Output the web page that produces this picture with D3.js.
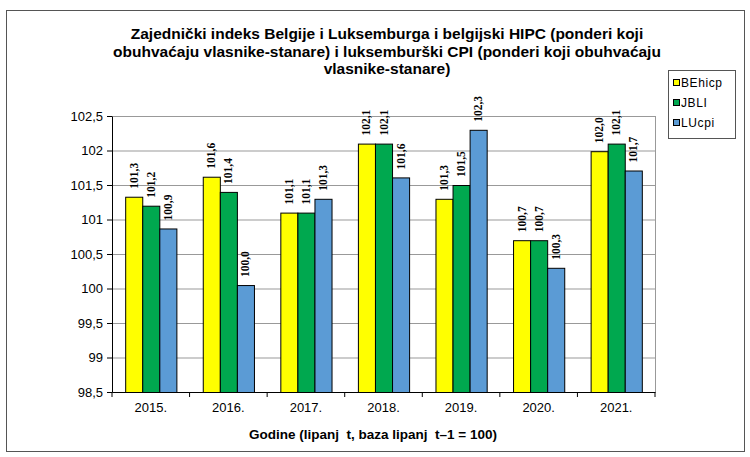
<!DOCTYPE html>
<html>
<head>
<meta charset="utf-8">
<script src="https://cdn.jsdelivr.net/npm/d3@7"></script>
<style>
  body { margin: 0; background: #fff; }
  svg { display: block; }
  .axis text { font-family: "Liberation Sans", Arial, sans-serif; font-size: 13px; fill: #000; }
  .axis path, .axis line { stroke: #000; }
  .title { font-family: "Liberation Sans", Arial, sans-serif; font-size: 15.5px; font-weight: bold; }
  .val { font-family: "Liberation Serif", "Times New Roman", serif; font-size: 11.5px; font-weight: bold; }
</style>
</head>
<body>
<svg id="chart" width="750" height="457"></svg>
<script>
// data
const years = ["2015.", "2016.", "2017.", "2018.", "2019.", "2020.", "2021."];
const seriesNames = ["BEhicp", "JBLI", "LUcpi"];
const beValues = [101.33, 101.62, 101.1, 102.1, 101.3, 100.7, 101.99];
const jbValues = [101.2, 101.4, 101.1, 102.1, 101.5, 100.7, 102.1];
const luValues = [100.87, 100.05, 101.3, 101.61, 102.3, 100.3, 101.71];
const beLabels = ["101,3", "101,6", "101,1", "102,1", "101,3", "100,7", "102,0"];
const jbLabels = ["101,2", "101,4", "101,1", "102,1", "101,5", "100,7", "102,1"];
const luLabels = ["100,9", "100,0", "101,3", "101,6", "102,3", "100,3", "101,7"];
const yTicks = [98.5, 99, 99.5, 100, 100.5, 101, 101.5, 102, 102.5];
const colors = ["#ffff00", "#00a84f", "#5b9bd5"];

const svg = d3.select("#chart");
const margin = { top: 116, right: 95, bottom: 65, left: 112 };
const innerW = 750 - margin.left - margin.right;
const innerH = 457 - margin.top - margin.bottom;

// outer frame
svg.append("rect").attr("x", 6.5).attr("y", 10.5).attr("width", 738).attr("height", 441)
  .attr("fill", "none").attr("stroke", "#555").attr("stroke-width", 1);

// title
const titleLines = [
  "Zajednički indeks Belgije i Luksemburga i belgijski HIPC (ponderi koji",
  "obuhvaćaju vlasnike-stanare) i luksemburški CPI (ponderi koji obuhvaćaju",
  "vlasnike-stanare)"
];
svg.append("text").attr("class", "title").attr("text-anchor", "middle")
  .selectAll("tspan").data(titleLines).join("tspan")
  .attr("x", 387).attr("y", (d, i) => 39 + i * 17.5).text(d => d);

const g = svg.append("g").attr("transform", `translate(${margin.left},${margin.top})`);

const x = d3.scaleBand().domain(years).range([0, innerW]).paddingInner(0.34).paddingOuter(0.17);
const xs = d3.scaleBand().domain(seriesNames).range([0, x.bandwidth()]);
const y = d3.scaleLinear().domain([98.5, 102.5]).range([innerH, 0]);

// gridlines
g.append("g").selectAll("line").data(yTicks).join("line")
  .attr("x1", 0).attr("x2", innerW)
  .attr("y1", d => y(d) + 0.5).attr("y2", d => y(d) + 0.5)
  .attr("stroke", "#999").attr("stroke-width", 1);
g.append("line").attr("x1", innerW + 0.5).attr("x2", innerW + 0.5).attr("y1", 0).attr("y2", innerH)
  .attr("stroke", "#999");

// bars
const series = [
  { name: "BEhicp", values: beValues, labels: beLabels },
  { name: "JBLI", values: jbValues, labels: jbLabels },
  { name: "LUcpi", values: luValues, labels: luLabels }
];

series.forEach((s, si) => {
  const sg = g.append("g");
  sg.selectAll("rect").data(s.values).join("rect")
    .attr("x", (d, i) => x(years[i]) + xs(s.name) + 0.5)
    .attr("y", d => y(d) + 0.5)
    .attr("width", xs.bandwidth())
    .attr("height", d => innerH - y(d))
    .attr("fill", colors[si])
    .attr("stroke", "#000").attr("stroke-width", 1);

  sg.selectAll("text").data(s.values).join("text")
    .attr("class", "val")
    .attr("transform", (d, i) => {
      const cx = x(years[i]) + xs(s.name) + xs.bandwidth() / 2 + 4;
      return `translate(${cx},${y(d) - 8}) rotate(-90)`;
    })
    .attr("text-anchor", "start")
    .text((d, i) => s.labels[i]);
});

// axes
const fmt = d => (Number.isInteger(d) ? d.toString() : d.toString().replace(".", ","));
g.append("g").attr("class", "axis")
  .call(d3.axisLeft(y).tickValues(yTicks).tickFormat(fmt).tickSize(5).tickPadding(4).tickSizeOuter(0));

const xAxis = g.append("g").attr("class", "axis").attr("transform", `translate(0,${innerH})`)
  .call(d3.axisBottom(x).tickSize(0).tickPadding(11).tickSizeOuter(0));
// category boundary ticks
const step = x.step();
xAxis.selectAll(".bound").data(d3.range(years.length + 1)).join("line")
  .attr("class", "bound")
  .attr("x1", i => x(years[0]) - x.paddingOuter() * step + i * step)
  .attr("x2", i => x(years[0]) - x.paddingOuter() * step + i * step)
  .attr("y1", 0).attr("y2", 5).attr("stroke", "#000");

svg.append("text").attr("x", 373).attr("y", 439).attr("text-anchor", "middle")
  .attr("xml:space", "preserve").style("white-space", "pre")
  .style("font-family", "\"Liberation Sans\", Arial, sans-serif").style("font-size", "13.5px")
  .style("font-weight", "bold").text("Godine (lipanj  t, baza lipanj  t\u20131 = 100)");

// legend
const lg = svg.append("g").attr("transform", "translate(668,70)");
lg.append("rect").attr("x", 0.5).attr("y", 0.5).attr("width", 67).attr("height", 68)
  .attr("fill", "#fff").attr("stroke", "#555");
seriesNames.forEach((n, i) => {
  lg.append("rect").attr("x", 5.5).attr("y", 9.5 + i * 20).attr("width", 6).attr("height", 6)
    .attr("fill", colors[i]).attr("stroke", "#000");
  lg.append("text").attr("x", 13).attr("y", 17 + i * 20)
    .style("font-family", "\"Liberation Sans\", Arial, sans-serif").style("font-size", "12px")
    .style("letter-spacing", "0.6px")
    .text(n);
});
</script>
</body>
</html>
